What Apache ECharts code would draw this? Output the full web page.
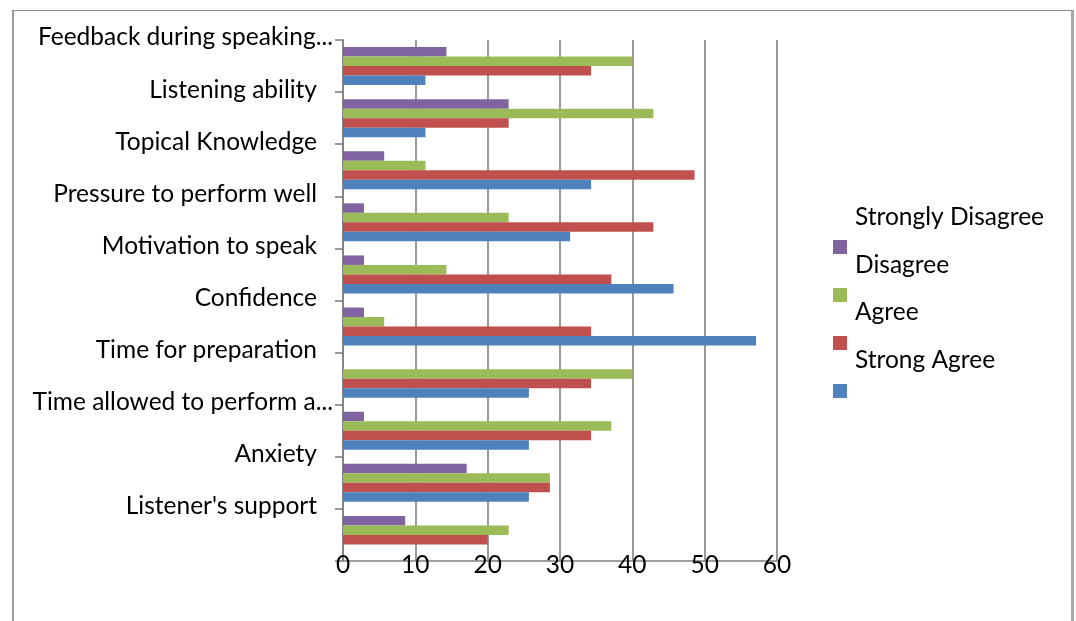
<!DOCTYPE html>
<html>
<head>
<meta charset="utf-8">
<script src="https://cdn.jsdelivr.net/npm/echarts@6/dist/echarts.min.js"></script>
<style>
  html, body { margin: 0; padding: 0; background: #ffffff; }
  #wrap { position: relative; width: 1076px; height: 621px; overflow: hidden; }
  #frame { position: absolute; left: 12px; top: 10px; width: 1057px; height: 700px;
           border-top: 1px solid #8c8c8c; border-left: 2px solid #9a9a9a; border-right: 3px solid #a8a8a8; }
  #chart { position: absolute; left: 0; top: 0; width: 1076px; height: 621px; }
</style>
</head>
<body>
<div id="wrap">
  <div id="frame"></div>
  <div id="chart"></div>
</div>
<script>
// Categories, top to bottom
const categories = [
  "Feedback during speaking...",
  "Listening ability",
  "Topical Knowledge",
  "Pressure to perform well",
  "Motivation to speak",
  "Confidence",
  "Time for preparation",
  "Time allowed to perform a...",
  "Anxiety",
  "Listener's support"
];
const seriesNames = ["Strongly Disagree", "Disagree", "Agree", "Strong Agree"];
// Values (percent), same order as categories
const stronglyDisagree = [14.3, 22.9, 5.7, 2.9, 2.9, 2.9, 0, 2.9, 17.1, 8.6];
const disagree         = [40.0, 42.9, 11.4, 22.9, 14.3, 5.7, 40.0, 37.1, 28.6, 22.9];
const agree            = [34.3, 22.9, 48.6, 42.9, 37.1, 34.3, 34.3, 34.3, 28.6, 20.0];
const strongAgree      = [11.4, 11.4, 34.3, 31.4, 45.7, 57.1, 25.7, 25.7, 25.7, 0];
const xTicks = { min: 0, max: 60, interval: 10 };

const colors = ["#8064A2", "#9BBB59", "#C0504D", "#4F81BD"];
const values = [stronglyDisagree, disagree, agree, strongAgree];
const FONT = "Lato";
const FS = 24.5;

const chart = echarts.init(document.getElementById('chart'), null, { renderer: 'canvas' });
const option = {
  animation: false,
  textStyle: { fontFamily: FONT },
  grid: { left: 343, right: 299, top: 40, bottom: 60, containLabel: false },
  legend: [
    {
      orient: 'vertical', left: 833, top: 240, padding: 0,
      itemWidth: 14, itemHeight: 14, itemGap: 34,
      icon: 'rect',
      data: seriesNames,
      formatter: function () { return ''; },
      textStyle: { fontSize: 1, lineHeight: 1 },
      selectedMode: false
    },
    {
      orient: 'vertical', left: 831, top: 200,
      itemWidth: 14, itemHeight: 14, itemGap: 22.5,
      icon: 'none',
      data: seriesNames,
      textStyle: { fontFamily: FONT, fontSize: FS, color: '#000' },
      selectedMode: false
    }
  ],
  xAxis: {
    type: 'value', min: xTicks.min, max: xTicks.max, interval: xTicks.interval,
    axisLine: { show: true, lineStyle: { color: '#808080', width: 1.6 } },
    axisTick: { show: false },
    splitLine: { show: true, lineStyle: { color: '#808080', width: 1.6 } },
    axisLabel: { fontFamily: FONT, fontSize: FS, color: '#000', margin: 4, verticalAlign: 'middle' }
  },
  yAxis: {
    type: 'category', data: categories, inverse: true,
    axisLine: { show: true, lineStyle: { color: '#808080', width: 1.6 } },
    axisTick: { show: true, length: 8, lineStyle: { color: '#808080', width: 1.6 } },
    axisLabel: {
      interval: 0, margin: 10, color: '#000',
      formatter: function (v) { return v.endsWith('...') ? '{t|' + v + '}' : '{n|' + v + '}'; },
      rich: {
        t: { fontFamily: FONT, fontSize: FS, color: '#000', padding: [0, 0, 57, 0] },
        n: { fontFamily: FONT, fontSize: FS, color: '#000', padding: [0, 16, 57, 0] }
      }
    }
  },
  series: seriesNames.map(function (name, i) {
    return {
      name: name, type: 'bar', data: values[i],
      barGap: '0%', barCategoryGap: '27%',
      itemStyle: { color: colors[i] }
    };
  })
};
chart.setOption(option);
</script>
</body>
</html>
